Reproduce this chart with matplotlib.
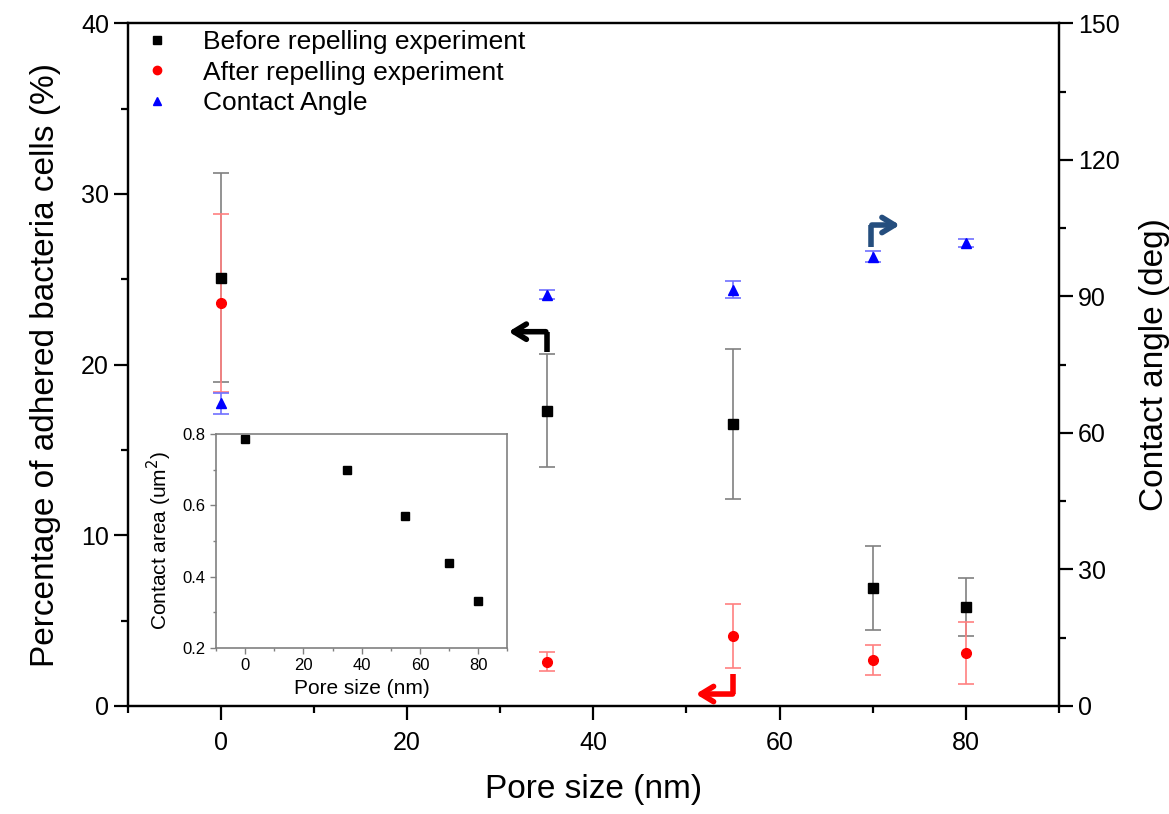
import matplotlib
matplotlib.use('Agg')
import matplotlib.pyplot as plt
from matplotlib.lines import Line2D
from matplotlib.ticker import MultipleLocator

plt.rcParams['font.family'] = ['Liberation Sans', 'DejaVu Sans']

# pore size (nm)
pore = [0, 35, 55, 70, 80]

# adhered bacteria cells (%)
before = [25.1, 17.3, 16.5, 6.9, 5.8]
before_err = [6.1, 3.3, 4.4, 2.45, 1.7]
after = [23.6, 2.6, 4.1, 2.7, 3.1]
after_err = [5.2, 0.55, 1.85, 0.9, 1.8]

# contact angle (deg)
angle = [66.5, 90.4, 91.5, 98.7, 101.7]
angle_err = [2.3, 1.0, 1.8, 1.2, 0.9]

# inset: contact area (um^2)
area = [0.786, 0.700, 0.571, 0.438, 0.330]

fig = plt.figure(figsize=(11.69, 8.14), dpi=100)
ax = fig.add_axes([0.1092, 0.1327, 0.7967, 0.8387])
ax2 = ax.twinx()

ax.errorbar(pore, before, yerr=before_err, fmt='s', color='black', ms=7,
            ecolor='#808080', elinewidth=1.2, capsize=6, capthick=1.2, zorder=3)
ax.errorbar(pore, after, yerr=after_err, fmt='o', color='#ff0000', ms=7,
            ecolor='#ff8080', elinewidth=1.2, capsize=6, capthick=1.2, zorder=3)
ax2.errorbar(pore, angle, yerr=angle_err, fmt='^', color='#0000ff', ms=7,
             ecolor='#7070ff', elinewidth=1.2, capsize=6, capthick=1.2, zorder=3)

ax.set_xlim(-10, 90)
ax.set_ylim(0, 40)
ax2.set_ylim(0, 150)

ax.xaxis.set_major_locator(MultipleLocator(20))
ax.xaxis.set_minor_locator(MultipleLocator(10))
ax.yaxis.set_major_locator(MultipleLocator(10))
ax.yaxis.set_minor_locator(MultipleLocator(5))
ax2.yaxis.set_major_locator(MultipleLocator(30))
ax2.yaxis.set_minor_locator(MultipleLocator(15))

for a in (ax, ax2):
    for s in a.spines.values():
        s.set_linewidth(1.6)
    a.tick_params(which='major', direction='out', length=10, width=1.6, labelsize=18)
    a.tick_params(which='minor', direction='out', length=5, width=1.6)
ax.tick_params(axis='x', pad=8)

ax.set_xlabel('Pore size (nm)', fontsize=24, labelpad=14)
ax.set_ylabel('Percentage of adhered bacteria cells (%)', fontsize=24, labelpad=14)
ax2.set_ylabel('Contact angle (deg)', fontsize=24, labelpad=14)

# legend shows markers only
handles = [
    Line2D([], [], ls='none', marker='s', color='black', ms=6),
    Line2D([], [], ls='none', marker='o', color='#ff0000', ms=6),
    Line2D([], [], ls='none', marker='^', color='#0000ff', ms=6),
]
labels = ['Before repelling experiment', 'After repelling experiment', 'Contact Angle']
ax.legend(handles, labels, loc='upper left', frameon=False, fontsize=19,
          handlelength=0.8, handletextpad=1.35, labelspacing=0.25,
          bbox_to_anchor=(-0.005, 1.025))

# bent arrows pointing to the relevant axis
head = '->,head_length=0.9,head_width=0.55'
ax.plot([35, 35], [20.75, 21.93], color='black', lw=4, solid_capstyle='butt', zorder=4)
ax.annotate('', xy=(30.6, 21.93), xytext=(35.2, 21.93),
            arrowprops=dict(arrowstyle=head, color='black', lw=4))
ax.plot([55.05, 55.05], [1.87, 0.7], color='#ff0000', lw=4, solid_capstyle='butt', zorder=4)
ax.annotate('', xy=(50.7, 0.7), xytext=(55.25, 0.7),
            arrowprops=dict(arrowstyle=head, color='#ff0000', lw=4))
ax.plot([69.8, 69.8], [26.9, 28.18], color='#254e7e', lw=4, solid_capstyle='butt', zorder=4)
ax.annotate('', xy=(73.2, 28.18), xytext=(69.6, 28.18),
            arrowprops=dict(arrowstyle=head, color='#254e7e', lw=4))

# inset
axi = fig.add_axes([0.1848, 0.2043, 0.2492, 0.2622])
axi.plot(pore, area, 's', color='black', ms=6)
axi.set_xlim(-10, 90)
axi.set_ylim(0.2, 0.8)
axi.xaxis.set_major_locator(MultipleLocator(20))
axi.xaxis.set_minor_locator(MultipleLocator(10))
axi.yaxis.set_major_locator(MultipleLocator(0.2))
axi.yaxis.set_minor_locator(MultipleLocator(0.1))
for s in axi.spines.values():
    s.set_color('#808080')
    s.set_linewidth(1.2)
axi.tick_params(which='major', direction='out', length=4, width=1, color='#808080', labelsize=12)
axi.tick_params(which='minor', direction='out', length=2, width=1, color='#808080')
axi.set_xlabel('Pore size (nm)', fontsize=15, labelpad=4)
axi.set_ylabel('Contact area (um$^2$)', fontsize=15, labelpad=6)

fig.savefig('out.png', dpi=100)
